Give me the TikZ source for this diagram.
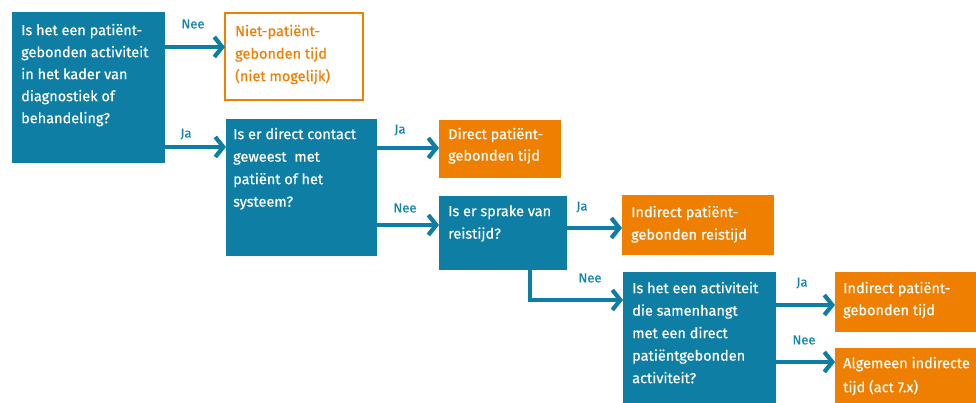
\documentclass[tikz,border=0pt]{standalone}
\usepackage{fontspec}
\setmainfont{Fira Sans}
\newfontfamily\boxfont{Fira Sans}[FakeBold=0.5]
\usetikzlibrary{arrows.meta}
\definecolor{qblue}{HTML}{0F7EA5}
\definecolor{qorange}{HTML}{EF7F00}
\definecolor{lblblue}{HTML}{1686B0}
\begin{document}
\begin{tikzpicture}[x=1pt,y=-1pt,
  boxb/.style={fill=qblue,draw=none,inner sep=0pt,outer sep=0pt,anchor=north west},
  boxo/.style={fill=qorange,draw=none,inner sep=0pt,outer sep=0pt,anchor=north west},
  boxl/.style={draw=qorange,line width=1.8pt,fill=white,inner sep=0pt,outer sep=0pt,anchor=north west},
  txt/.style={inner sep=0pt,anchor=north west,align=left,text=white,font=\boxfont\fontsize{14.5}{#1}\selectfont},
  txt/.default=22.5,
  lbl/.style={inner sep=0pt,text=lblblue,font=\boxfont\fontsize{13}{15}\selectfont},
  arr/.style={draw=qblue,line width=4.2pt,-{Straight Barb[length=8pt,width=20pt]}}]
\useasboundingbox (0,0) rectangle (976,403);
% boxes
\node[boxb,minimum width=153pt,minimum height=151pt] (a) at (12,12) {};
\node[boxl,minimum width=138pt,minimum height=87pt] (b) at (225,13) {};
\node[boxb,minimum width=151pt,minimum height=137pt] (c) at (226,119) {};
\node[boxo,minimum width=122pt,minimum height=58pt] (d) at (439,120) {};
\node[boxb,minimum width=128pt,minimum height=74pt] (e) at (439,196) {};
\node[boxo,minimum width=152pt,minimum height=60pt] (f) at (622,195) {};
\node[boxb,minimum width=153pt,minimum height=135pt] (g) at (623,272) {};
\node[boxo,minimum width=141pt,minimum height=60pt] (h) at (835,272) {};
\node[boxo,minimum width=141pt,minimum height=58pt] (i) at (835,348) {};
% texts (north west = first baseline - 0.7 baselineskip)
\node[txt=22] (at) at (21,19.6) {\strut Is het een patiënt-\\gebonden activiteit\\in het kader van\\diagnostiek of\\behandeling?};
\node[txt=22.5,text=qorange] (bt) at (235,20.2) {\strut Niet-patiënt-\\gebonden tijd\\(niet mogelijk)};
\node[txt=22.5] (ct) at (233,123.2) {\strut Is er direct contact\\geweest\ \ met\\patiënt of het\\systeem?};
\node[txt=21.5] (dt) at (448,123.9) {\strut Direct patiënt-\\gebonden tijd};
\node[txt=22.5] (et) at (448,200.2) {\strut Is er sprake van\\reistijd?};
\node[txt=22.5] (ft) at (631,201.2) {\strut Indirect patiënt-\\gebonden reistijd};
\node[txt=22.5] (gt) at (632,277.2) {\strut Is het een activiteit\\die samenhangt\\met een direct\\patiëntgebonden\\activiteit?};
\node[txt=22] (ht) at (843,277.6) {\strut Indirect patiënt-\\gebonden tijd};
\node[txt=24] (it) at (843,351.2) {\strut Algemeen indirecte\\tijd (act 7.x)};
% connectors
\draw[arr] ([yshift=-35pt]a.north east) -- ([yshift=-34pt]b.north west);
\draw[arr] ([yshift=-135pt]a.north east) -- ([yshift=-28pt]c.north west);
\draw[arr] ([yshift=-29pt]c.north east) -- ([yshift=-28pt]d.north west);
\draw[arr] ([yshift=-106pt]c.north east) -- ([yshift=-29pt]e.north west);
\draw[arr] ([yshift=-32pt]e.north east) -- ([yshift=-33pt]f.north west);
\draw[arr] ([xshift=91pt]e.south west) |- ([yshift=-28pt]g.north west);
\draw[arr] ([yshift=-33pt]g.north east) -- ([yshift=-33pt]h.north west);
\draw[arr] ([yshift=-90pt]g.north east) -- ([yshift=-14pt]i.north west);
% labels
\node[lbl] (l1) at (193,24) {Nee};
\node[lbl] (l2) at (186,134) {Ja};
\node[lbl] (l3) at (400,130) {Ja};
\node[lbl] (l4) at (405,208) {Nee};
\node[lbl] (l5) at (582,207) {Ja};
\node[lbl] (l6) at (590,278) {Nee};
\node[lbl] (l7) at (802,283) {Ja};
\node[lbl] (l8) at (804,340) {Nee};
\end{tikzpicture}
\end{document}
